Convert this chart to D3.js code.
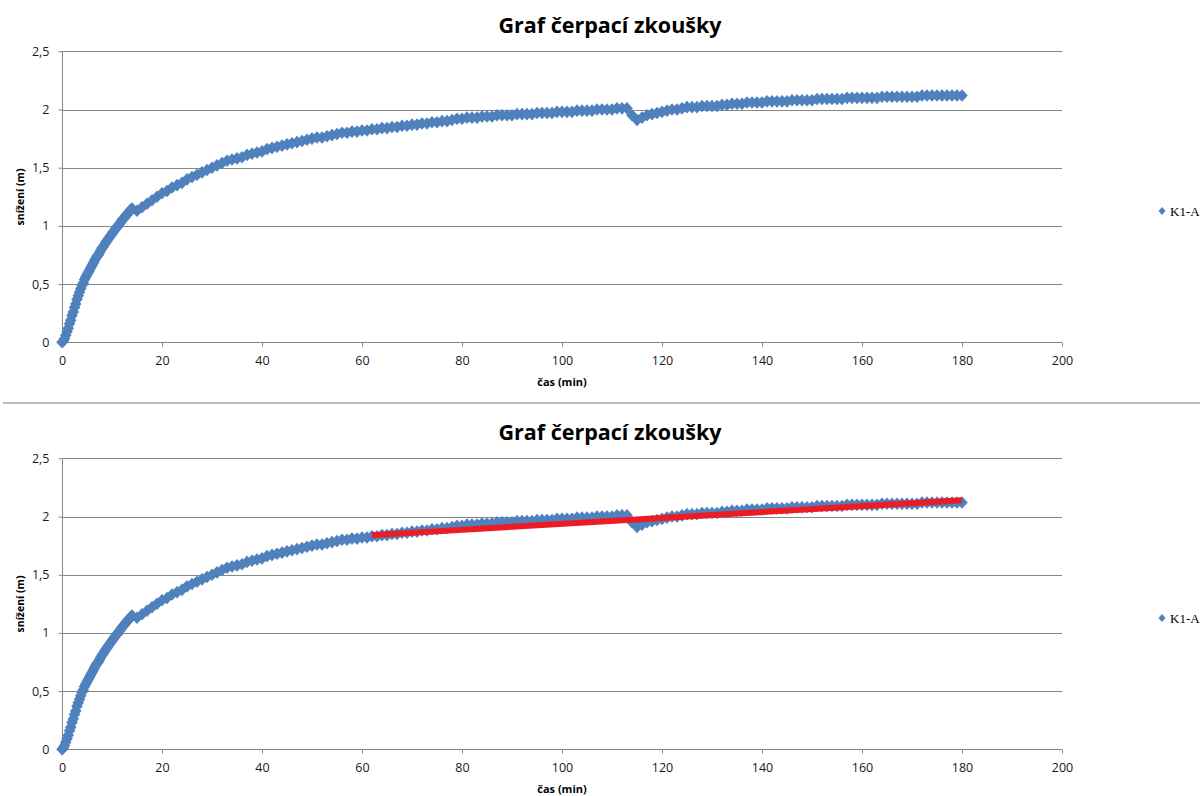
<!DOCTYPE html>
<html lang="cs">
<head>
<meta charset="UTF-8" />
<title>Graf čerpací zkoušky</title>
<style>
  html, body { margin: 0; padding: 0; background: #fff; }
  svg { display: block; }
</style>
</head>
<body>
<div id="chart"></div>
<script src="https://cdn.jsdelivr.net/npm/d3@7"></script>
<script>
// měřená data K1-A (čas v min, snížení v m)
const timeMin = [
  0, 0.25, 0.5, 0.75, 1, 1.25, 1.5, 1.75, 2, 2.25, 2.5, 2.75, 3, 3.25, 3.5, 3.75,
  4, 4.25, 4.5, 4.75, 5, 5.25, 5.5, 5.75, 6, 6.25, 6.5, 6.75, 7, 7.25, 7.5, 7.75,
  8, 8.25, 8.5, 8.75, 9, 9.25, 9.5, 9.75, 10, 10.25, 10.5, 10.75, 11, 11.25, 11.5, 11.75,
  12, 12.25, 12.5, 12.75, 13, 13.25, 13.5, 13.75, 14,
  15, 16, 17, 18, 19, 20, 21, 22, 23, 24, 25, 26, 27, 28, 29, 30,
  31, 32, 33, 34, 35, 36, 37, 38, 39, 40, 41, 42, 43, 44, 45, 46, 47, 48, 49, 50,
  51, 52, 53, 54, 55, 56, 57, 58, 59, 60, 61, 62, 63, 64, 65, 66, 67, 68, 69, 70,
  71, 72, 73, 74, 75, 76, 77, 78, 79, 80, 81, 82, 83, 84, 85, 86, 87, 88, 89, 90,
  91, 92, 93, 94, 95, 96, 97, 98, 99, 100, 101, 102, 103, 104, 105, 106, 107, 108, 109, 110,
  111, 112, 113, 114, 115, 116, 117, 118, 119, 120, 121, 122, 123, 124, 125, 126, 127, 128, 129, 130,
  131, 132, 133, 134, 135, 136, 137, 138, 139, 140, 141, 142, 143, 144, 145, 146, 147, 148, 149, 150,
  151, 152, 153, 154, 155, 156, 157, 158, 159, 160, 161, 162, 163, 164, 165, 166, 167, 168, 169, 170,
  171, 172, 173, 174, 175, 176, 177, 178, 179, 180
];
const drawdown = [
  0, 0.01, 0.03, 0.06, 0.09, 0.12, 0.16, 0.19, 0.23, 0.26, 0.30, 0.33, 0.37, 0.40, 0.43, 0.46,
  0.49, 0.51, 0.54, 0.56, 0.58, 0.60, 0.62, 0.64, 0.66, 0.68, 0.70, 0.72, 0.74, 0.75, 0.77, 0.79,
  0.81, 0.82, 0.84, 0.86, 0.87, 0.89, 0.90, 0.92, 0.93, 0.95, 0.96, 0.98, 0.99, 1.00, 1.02, 1.03,
  1.05, 1.06, 1.07, 1.09, 1.10, 1.11, 1.12, 1.14, 1.15,
  1.13, 1.16, 1.19, 1.22, 1.25, 1.28, 1.30, 1.33, 1.35, 1.37, 1.40, 1.42, 1.44, 1.46, 1.48, 1.50,
  1.52, 1.54, 1.56, 1.57, 1.58, 1.59, 1.61, 1.62, 1.63, 1.64, 1.66, 1.67, 1.68, 1.69, 1.70, 1.71, 1.72, 1.73, 1.74, 1.75,
  1.76, 1.76, 1.77, 1.78, 1.79, 1.80, 1.80, 1.81, 1.81, 1.82, 1.82, 1.83, 1.83, 1.84, 1.84, 1.85, 1.85, 1.86, 1.86, 1.87,
  1.87, 1.88, 1.88, 1.89, 1.89, 1.90, 1.90, 1.91, 1.92, 1.92, 1.93, 1.93, 1.93, 1.94, 1.94, 1.94, 1.95, 1.95, 1.95, 1.95,
  1.96, 1.96, 1.96, 1.96, 1.97, 1.97, 1.97, 1.97, 1.98, 1.98, 1.98, 1.98, 1.99, 1.99, 1.99, 1.99, 2.00, 2.00, 2.00, 2.00,
  2.01, 2.01, 2.01, 1.95, 1.91, 1.93, 1.95, 1.96, 1.97, 1.98, 1.99, 2.00, 2.00, 2.01, 2.02, 2.02, 2.02, 2.03, 2.03, 2.03,
  2.03, 2.04, 2.04, 2.05, 2.05, 2.05, 2.06, 2.06, 2.06, 2.06, 2.07, 2.07, 2.07, 2.07, 2.07, 2.08, 2.08, 2.08, 2.08, 2.08,
  2.09, 2.09, 2.09, 2.09, 2.09, 2.09, 2.10, 2.10, 2.10, 2.10, 2.10, 2.10, 2.10, 2.11, 2.11, 2.11, 2.11, 2.11, 2.11, 2.11,
  2.11, 2.12, 2.12, 2.12, 2.12, 2.12, 2.12, 2.12, 2.12, 2.12
];

// červená přímka jen ve druhém grafu
const fitTime = [62, 180];
const fitValue = [1.84, 2.14];

const xTicks = [0, 20, 40, 60, 80, 100, 120, 140, 160, 180, 200];
const yTicks = [0, 0.5, 1, 1.5, 2, 2.5];
const yTickLabels = ["0", "0,5", "1", "1,5", "2", "2,5"];

const seriesName = "K1-A";
const chartTitle = "Graf čerpací zkoušky";

const W = 1202, H = 796;
const blue = "#4f81bd", grid = "#868686";
const sans = "'Open Sans', 'DejaVu Sans', sans-serif";

const svg = d3.select("#chart").append("svg")
  .attr("width", W).attr("height", H)
  .attr("viewBox", [0, 0, W, H]);

const points = timeMin.map((t, i) => ({ t: t, v: drawdown[i] }));
const diamond = "M0,-6.3L5.8,0L0,6.3L-5.8,0Z";

function drawChart(top, withFit) {
  const g = svg.append("g");

  const x = d3.scaleLinear().domain([0, 200]).range([62, 1062]);
  const y = d3.scaleLinear().domain([0, 2.5]).range([top + 342.3, top + 51.3]);

  // mřížka
  g.append("g").selectAll("line")
    .data(yTicks)
    .join("line")
    .attr("x1", x(0)).attr("x2", x(200))
    .attr("y1", d => Math.round(y(d)) + 0.5)
    .attr("y2", d => Math.round(y(d)) + 0.5)
    .attr("stroke", grid).attr("stroke-width", 1);

  const yAxis = g.append("g")
    .attr("transform", `translate(${x(0) + 0.5},0)`)
    .call(d3.axisLeft(y).tickValues(yTicks).tickSize(4).tickPadding(9)
      .tickFormat((d, i) => yTickLabels[i]));

  const xAxis = g.append("g")
    .attr("transform", `translate(0,${Math.round(y(0)) + 0.5})`)
    .call(d3.axisBottom(x).tickValues(xTicks).tickSize(4).tickPadding(10)
      .tickFormat(d3.format("d")));

  [yAxis, xAxis].forEach(a => {
    a.select(".domain").attr("stroke", grid);
    a.selectAll(".tick line").attr("stroke", grid);
    a.selectAll(".tick text")
      .attr("fill", "#1a1a1a")
      .style("font-family", sans)
      .style("font-size", "12.5px");
  });
  yAxis.select(".domain").attr("d", `M0,${y(2.5)}V${y(0)}`);
  xAxis.select(".domain").attr("d", `M${x(0)},0H${x(200)}`);

  // body řady
  g.append("g").selectAll("path")
    .data(points)
    .join("path")
    .attr("d", diamond)
    .attr("transform", d => `translate(${x(d.t)},${y(d.v)})`)
    .attr("fill", blue);

  if (withFit) {
    g.append("path")
      .datum(fitTime.map((t, i) => [t, fitValue[i]]))
      .attr("d", d3.line().x(d => x(d[0])).y(d => y(d[1])))
      .attr("fill", "none")
      .attr("stroke", "#ed1c24")
      .attr("stroke-width", 6);
  }

  // titulky
  g.append("text")
    .attr("x", 610).attr("y", top + 33)
    .attr("text-anchor", "middle")
    .style("font-family", sans).style("font-weight", "bold").style("font-size", "21.5px")
    .attr("fill", "#000")
    .text(chartTitle);

  g.append("text")
    .attr("x", 562).attr("y", top + 386)
    .attr("text-anchor", "middle")
    .style("font-family", sans).style("font-weight", "bold").style("font-size", "11px")
    .attr("fill", "#000")
    .text("čas (min)");

  g.append("text")
    .attr("transform", `translate(24,${top + 197}) rotate(-90)`)
    .attr("text-anchor", "middle")
    .style("font-family", sans).style("font-weight", "bold").style("font-size", "10.5px")
    .attr("fill", "#000")
    .text("snížení (m)");

  // legenda
  g.append("path")
    .attr("d", "M0,-4L3.5,0L0,4L-3.5,0Z")
    .attr("transform", `translate(1162,${top + 211})`)
    .attr("fill", blue);
  g.append("text")
    .attr("x", 1170).attr("y", top + 215.5)
    .style("font-family", "'Liberation Serif', 'Times New Roman', serif")
    .style("font-size", "13px")
    .attr("fill", "#000")
    .text(seriesName);
}

drawChart(0, false);
drawChart(407, true);

// dělicí čára mezi grafy
svg.append("line")
  .attr("x1", 3).attr("x2", 1200)
  .attr("y1", 403).attr("y2", 403)
  .attr("stroke", "#bfbfbf").attr("stroke-width", 2);
</script>
</body>
</html>
